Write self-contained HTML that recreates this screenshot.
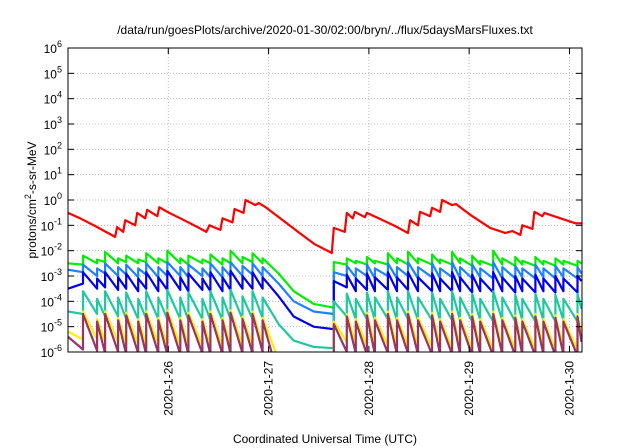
<!DOCTYPE html>
<html><head><meta charset="utf-8"><style>
html,body{margin:0;padding:0;background:#fff;}
svg{display:block;font-family:"Liberation Sans",Arial,sans-serif;}
</style></head><body>
<svg id="chart" width="640" height="448" viewBox="0 0 640 448" xmlns="http://www.w3.org/2000/svg">
<text x="325" y="34" font-size="12" text-anchor="middle">/data/run/goesPlots/archive/2020-01-30/02:00/bryn/../flux/5daysMarsFluxes.txt</text>
<text transform="translate(36,200) rotate(-90)" font-size="12" text-anchor="middle">protons/cm<tspan dy="-5" font-size="9">2</tspan><tspan dy="5">-s-sr-MeV</tspan></text>
<text x="325" y="443" font-size="12" text-anchor="middle">Coordinated Universal Time (UTC)</text>
<g id="grid"></g>
<g id="series"></g>
<g id="axes"></g>
</svg>
<script>
const dayLabels = ["2020-1-26","2020-1-27","2020-1-28","2020-1-29","2020-1-30"];
const dayTicks = [1,2,3,4,5];
const yExponents = [-6,-5,-4,-3,-2,-1,0,1,2,3,4,5,6];
const redTimes = [0.00,0.12,0.27,0.47,0.49,0.55,0.57,0.67,0.69,0.77,0.79,0.89,0.91,0.99,1.12,1.27,1.38,1.41,1.52,1.54,1.64,1.66,1.75,1.77,1.87,1.90,1.97,2.17,2.32,2.46,2.63,2.65,2.76,2.78,2.84,2.86,2.96,2.98,3.11,3.26,3.39,3.41,3.49,3.51,3.61,3.63,3.71,3.73,3.83,3.87,4.01,4.21,4.36,4.43,4.51,4.53,4.63,4.65,4.73,4.75,4.91,5.06,5.12];
const redFlux = [0.31,0.19,0.094,0.035,0.085,0.055,0.16,0.10,0.31,0.19,0.41,0.23,0.52,0.34,0.19,0.094,0.055,0.10,0.066,0.19,0.13,0.44,0.31,1.0,0.63,0.76,0.52,0.13,0.046,0.018,0.0081,0.079,0.055,0.31,0.19,0.34,0.21,0.31,0.18,0.094,0.050,0.16,0.10,0.34,0.23,0.49,0.34,1.0,0.63,0.69,0.26,0.079,0.050,0.060,0.042,0.10,0.072,0.34,0.23,0.31,0.19,0.12,0.12];
const jumpTimes = [0.00,0.15,0.29,0.37,0.50,0.58,0.70,0.78,0.90,0.99,1.12,1.20,1.34,1.42,1.54,1.62,1.74,1.84,1.94,2.10,2.25,2.45,2.65,2.78,2.87,2.98,3.06,3.19,3.28,3.39,3.49,3.63,3.71,3.83,3.91,4.03,4.11,4.24,4.33,4.46,4.53,4.66,4.74,4.86,4.94,5.08];
const endTime = 5.12;
const greenPeakLog = [-2.5,-2.2,-2.35,-2.05,-2.3,-2.2,-2.35,-2.1,-2.3,-2.0,-2.3,-2.2,-2.35,-2.15,-2.3,-2.0,-2.25,-2.1,-2.3,-2.9,-3.6,-4.1,-2.45,-2.3,-2.4,-2.25,-2.4,-2.1,-2.3,-2.05,-2.3,-2.15,-2.35,-2.05,-2.3,-2.2,-2.4,-2.0,-2.3,-2.25,-2.4,-2.25,-2.4,-2.3,-2.4,-2.4];
const greenTroughLog = [-2.55,-2.5,-2.45,-2.5,-2.45,-2.5,-2.45,-2.5,-2.5,-2.5,-2.55,-2.5,-2.5,-2.55,-2.5,-2.5,-2.45,-2.5,-2.9,-3.6,-4.1,-4.25,-2.55,-2.5,-2.55,-2.5,-2.55,-2.5,-2.55,-2.5,-2.55,-2.5,-2.55,-2.5,-2.6,-2.55,-2.6,-2.55,-2.6,-2.55,-2.6,-2.55,-2.6,-2.55,-2.6,-2.5];
const lightBluePeakLog = [-2.75,-2.55,-2.7,-2.5,-2.65,-2.55,-2.7,-2.5,-2.65,-2.45,-2.65,-2.55,-2.7,-2.5,-2.65,-2.45,-2.6,-2.5,-2.65,-3.3,-4.0,-4.4,-2.85,-2.6,-2.7,-2.55,-2.7,-2.5,-2.65,-2.45,-2.65,-2.5,-2.7,-2.45,-2.65,-2.55,-2.7,-2.45,-2.65,-2.6,-2.7,-2.55,-2.7,-2.6,-2.7,-2.65];
const lightBlueTroughLog = [-2.85,-3.0,-2.9,-3.0,-2.95,-3.05,-2.95,-3.05,-3.0,-3.0,-3.05,-3.0,-3.05,-3.05,-3.0,-3.0,-2.95,-3.0,-3.3,-4.0,-4.4,-4.5,-3.0,-3.05,-3.0,-3.1,-3.0,-3.1,-3.0,-3.1,-3.05,-3.1,-3.05,-3.1,-3.1,-3.05,-3.1,-3.1,-3.1,-3.05,-3.1,-3.05,-3.1,-3.05,-3.1,-2.9];
const bluePeakLog = [-3.5,-2.85,-3.1,-2.85,-3.05,-2.9,-3.1,-2.85,-3.05,-2.8,-3.05,-2.9,-3.1,-2.85,-3.05,-2.8,-3.0,-2.85,-3.05,-3.8,-4.6,-5.0,-3.2,-2.95,-3.1,-2.9,-3.05,-2.85,-3.05,-2.85,-3.05,-2.9,-3.1,-2.85,-3.05,-2.95,-3.1,-2.85,-3.05,-3.0,-3.1,-2.95,-3.1,-3.0,-3.1,-3.0];
const blueTroughLog = [-3.3,-3.5,-3.45,-3.55,-3.5,-3.6,-3.5,-3.6,-3.55,-3.55,-3.6,-3.55,-3.6,-3.6,-3.55,-3.5,-3.5,-3.5,-3.8,-4.6,-5.0,-5.1,-3.45,-3.6,-3.55,-3.6,-3.55,-3.6,-3.55,-3.6,-3.6,-3.6,-3.6,-3.6,-3.65,-3.6,-3.65,-3.6,-3.65,-3.6,-3.65,-3.6,-3.65,-3.6,-3.65,-3.2];
const tealPeakLog = [-4.4,-3.6,-3.9,-3.6,-3.85,-3.65,-3.9,-3.6,-3.85,-3.55,-3.85,-3.65,-3.9,-3.6,-3.85,-3.55,-3.8,-3.6,-3.85,-4.9,-5.55,-5.8,-4.0,-3.7,-3.9,-3.65,-3.85,-3.6,-3.85,-3.6,-3.85,-3.65,-3.9,-3.6,-3.85,-3.7,-3.9,-3.6,-3.85,-3.75,-3.9,-3.7,-3.9,-3.75,-3.9,-3.7];
const tealTroughLog = [-4.5,-4.5,-4.6,-4.6,-4.7,-4.7,-4.7,-4.7,-4.7,-4.7,-4.75,-4.7,-4.75,-4.75,-4.7,-4.7,-4.7,-4.65,-4.9,-5.55,-5.8,-5.85,-4.6,-4.7,-4.7,-4.75,-4.7,-4.75,-4.7,-4.75,-4.75,-4.75,-4.75,-4.75,-4.8,-4.75,-4.8,-4.75,-4.8,-4.75,-4.8,-4.75,-4.8,-4.75,-4.8,-4.3];
const yellowPeakLog = [-5.2,-4.4,-4.7,-4.4,-4.65,-4.45,-4.7,-4.4,-4.65,-4.35,-4.65,-4.45,-4.7,-4.4,-4.65,-4.35,-4.6,-4.4,-4.65,-6.3,-7,-7,-4.8,-4.5,-4.7,-4.45,-4.65,-4.4,-4.65,-4.4,-4.65,-4.45,-4.7,-4.4,-4.65,-4.5,-4.7,-4.4,-4.65,-4.55,-4.7,-4.5,-4.7,-4.55,-4.7,-4.5];
const yellowTroughLog = [-5.5,-5.5,-5.6,-5.6,-5.7,-5.7,-5.75,-5.7,-5.75,-5.75,-5.8,-5.75,-5.8,-5.8,-5.75,-5.75,-5.75,-5.7,-6.3,-7,-7,-7,-5.6,-5.7,-5.75,-5.8,-5.75,-5.8,-5.75,-5.8,-5.8,-5.8,-5.85,-5.8,-5.9,-5.85,-5.9,-5.85,-5.9,-5.85,-5.9,-5.85,-5.9,-5.85,-5.9,-5.3];
const purplePeakLog = [-5.4,-4.5,-4.8,-4.5,-4.75,-4.55,-4.8,-4.5,-4.75,-4.45,-4.75,-4.55,-4.8,-4.5,-4.75,-4.45,-4.7,-4.5,-4.75,-7,-7,-7,-4.9,-4.6,-4.8,-4.55,-4.75,-4.5,-4.75,-4.5,-4.75,-4.55,-4.8,-4.5,-4.75,-4.6,-4.8,-4.5,-4.75,-4.65,-4.8,-4.6,-4.8,-4.65,-4.8,-4.6];
const purpleTroughLog = [-5.9,-5.95,-6.05,-6.0,-6.1,-6.05,-6.1,-6.05,-6.1,-6.1,-6.1,-6.05,-6.1,-6.1,-6.05,-6.05,-6.05,-6.0,-7,-7,-7,-7,-6.0,-6.05,-6.1,-6.1,-6.05,-6.1,-6.05,-6.1,-6.1,-6.1,-6.1,-6.1,-6.15,-6.1,-6.15,-6.1,-6.15,-6.1,-6.15,-6.1,-6.15,-6.1,-6.15,-5.6];

const NS = "http://www.w3.org/2000/svg";
const L = 68, R = 582, T = 48, B = 352;
const X0 = 0, X1 = 5.125;
function xs(d){ return L + (d - X0) / (X1 - X0) * (R - L); }
function ysLog(e){ return B - (e + 6) / 12 * (B - T); }
function mk(tag, attrs, parent){ const el = document.createElementNS(NS, tag); for (const k in attrs) el.setAttribute(k, attrs[k]); parent.appendChild(el); return el; }

const svg = document.getElementById('chart');
const grid = document.getElementById('grid');
const axes = document.getElementById('axes');
const series = document.getElementById('series');

const defs = mk('defs', {}, svg);
const cp = mk('clipPath', {id:'plotclip'}, defs);
mk('rect', {x:L, y:T, width:R-L, height:B-T}, cp);
series.setAttribute('clip-path', 'url(#plotclip)');

yExponents.forEach(e => {
  const y = ysLog(e);
  if (e > -6 && e < 6) {
    const g = mk('line', {x1:L, x2:R, y1:y, y2:y, stroke:'#bbb', 'stroke-width':1, 'stroke-dasharray':'1,2'}, grid);
    
    
  }
  const t1 = mk('line', {x1:L, x2:L+6, y1:y, y2:y, stroke:'#000'}, axes);
  
  
  mk('line', {x1:R-6, x2:R, y1:y, y2:y, stroke:'#000'}, axes);
  const tx = mk('text', {x:L-6, y:y+5, 'font-size':12, 'text-anchor':'end'}, axes);
  
  
  const base = document.createElementNS(NS, 'tspan'); base.textContent = '10'; tx.appendChild(base);
  const sup = document.createElementNS(NS, 'tspan'); sup.setAttribute('dy', '-6'); sup.setAttribute('font-size', '9'); sup.textContent = String(e).replace('-', '-'); tx.appendChild(sup);
  // shift base left to account for superscript
  tx.setAttribute('x', L - 6);
});

dayTicks.forEach((d, i) => {
  const x = xs(d);
  const g = mk('line', {x1:x, x2:x, y1:T, y2:B, stroke:'#bbb', 'stroke-width':1, 'stroke-dasharray':'1,2'}, grid);
  
  
  const t1 = mk('line', {x1:x, x2:x, y1:B, y2:B-6, stroke:'#000'}, axes);
  
  
  mk('line', {x1:x, x2:x, y1:T, y2:T+6, stroke:'#000'}, axes);
  const tx = mk('text', {transform:'translate(' + (x+4) + ',' + (B+9) + ') rotate(-90)', 'font-size':12, 'text-anchor':'end'}, axes);
  tx.textContent = dayLabels[i];
  
  
});

const frame = mk('rect', {x:L, y:T, width:R-L, height:B-T, fill:'none', stroke:'#000', 'stroke-width':1}, axes);



function drawSaw(peaks, troughs, color, name){
  const n = Math.min(jumpTimes.length, peaks.length, troughs.length);
  let d = '';
  for (let i = 0; i < n; i++) {
    const t0 = jumpTimes[i], t1 = (i + 1 < jumpTimes.length) ? jumpTimes[i+1] : endTime;
    d += (i === 0 ? 'M' : 'L') + xs(t0).toFixed(1) + ',' + ysLog(peaks[i]).toFixed(1);
    d += 'L' + xs(t1).toFixed(1) + ',' + ysLog(troughs[i]).toFixed(1);
  }
  const p = mk('path', {d:d, fill:'none', stroke:color, 'stroke-width':2.2, 'stroke-linejoin':'round'}, series);
  
  
}

let rd = '';
for (let i = 0; i < Math.min(redTimes.length, redFlux.length); i++) {
  rd += (i === 0 ? 'M' : 'L') + xs(redTimes[i]).toFixed(1) + ',' + ysLog(Math.log10(redFlux[i])).toFixed(1);
}
const red = mk('path', {d:rd, fill:'none', stroke:'#ff0000', 'stroke-width':2.2, 'stroke-linejoin':'round'}, series);



drawSaw(greenPeakLog, greenTroughLog, '#00ee00', 'green-series-line');
drawSaw(lightBluePeakLog, lightBlueTroughLog, '#1e82ff', 'light-blue-series-line');
drawSaw(bluePeakLog, blueTroughLog, '#0000ee', 'blue-series-line');
drawSaw(tealPeakLog, tealTroughLog, '#20c8a0', 'teal-series-line');
drawSaw(yellowPeakLog, yellowTroughLog, '#ffee00', 'yellow-series-line');
drawSaw(purplePeakLog, purpleTroughLog, '#9a3366', 'purple-series-line');
</script>
</body></html>
